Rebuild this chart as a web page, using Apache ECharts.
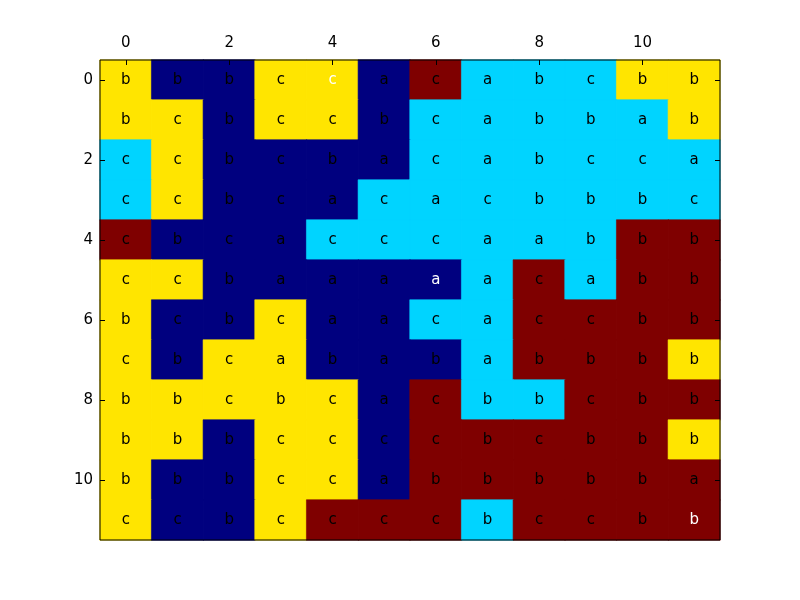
<!DOCTYPE html>
<html>
<head>
<meta charset="utf-8">
<script src="https://cdn.jsdelivr.net/npm/echarts@6/dist/echarts.min.js"></script>
<style>
  html, body { margin: 0; padding: 0; background: #fff; }
  #chart { width: 800px; height: 600px; }
</style>
</head>
<body>
<div id="chart"></div>
<script>
// rows/cols 0..11
var cols = ['0','1','2','3','4','5','6','7','8','9','10','11'];
var rows = ['0','1','2','3','4','5','6','7','8','9','10','11'];

// colour class per cell: 0 navy, 1 cyan, 2 yellow, 3 dark red
var cellValues = [
  [2,0,0,2,2,0,3,1,1,1,2,2],
  [2,2,0,2,2,0,1,1,1,1,1,2],
  [1,2,0,0,0,0,1,1,1,1,1,1],
  [1,2,0,0,0,1,1,1,1,1,1,1],
  [3,0,0,0,1,1,1,1,1,1,3,3],
  [2,2,0,0,0,0,0,1,3,1,3,3],
  [2,0,0,2,0,0,1,1,3,3,3,3],
  [2,0,2,2,0,0,0,1,3,3,3,2],
  [2,2,2,2,2,0,3,1,1,3,3,3],
  [2,2,0,2,2,0,3,3,3,3,3,2],
  [2,0,0,2,2,0,3,3,3,3,3,3],
  [2,0,0,2,3,3,3,1,3,3,3,3]
];

// letter shown in each cell
var cellLetters = [
  ['b','b','b','c','c','a','c','a','b','c','b','b'],
  ['b','c','b','c','c','b','c','a','b','b','a','b'],
  ['c','c','b','c','b','a','c','a','b','c','c','a'],
  ['c','c','b','c','a','c','a','c','b','b','b','c'],
  ['c','b','c','a','c','c','c','a','a','b','b','b'],
  ['c','c','b','a','a','a','a','a','c','a','b','b'],
  ['b','c','b','c','a','a','c','a','c','c','b','b'],
  ['c','b','c','a','b','a','b','a','b','b','b','b'],
  ['b','b','c','b','c','a','c','b','b','c','b','b'],
  ['b','b','b','c','c','c','c','b','c','b','b','b'],
  ['b','b','b','c','c','a','b','b','b','b','b','a'],
  ['c','c','b','c','c','c','c','b','c','c','b','b']
];

// cells whose letter is drawn in white: [row, col]
var whiteCells = [[0,4],[5,6],[11,11]];

var palette = ['#00007f', '#00d4ff', '#ffe500', '#7f0000'];

var data = [];
for (var r = 0; r < rows.length; r++) {
  for (var c = 0; c < cols.length; c++) {
    var white = whiteCells.some(function (w) { return w[0] === r && w[1] === c; });
    var col = palette[cellValues[r][c]];
    data.push({
      value: [c, r, cellValues[r][c]],
      letter: cellLetters[r][c],
      // border in the fill colour hides the hairline seams between cells
      itemStyle: { color: col, borderColor: col, borderWidth: 0.6 },
      label: { color: white ? '#ffffff' : '#000000' }
    });
  }
}

var FONT = 'DejaVu Sans';
var myChart = echarts.init(document.getElementById('chart'));

var option = {
  backgroundColor: '#ffffff',
  animation: false,
  grid: {
    left: 100, right: 80, top: 60, bottom: 60,
    show: true, borderColor: '#000', borderWidth: 1, backgroundColor: 'transparent', z: 10
  },
  xAxis: {
    type: 'category',
    data: cols,
    position: 'top',
    axisLine: { show: false },
    axisTick: { show: true, inside: true, alignWithLabel: true, interval: 1, length: 5, lineStyle: { color: '#000' } },
    axisLabel: { interval: 1, color: '#000', fontFamily: FONT, fontSize: 15, margin: 9 },
    splitLine: { show: false },
    z: 11
  },
  yAxis: [{
    type: 'category',
    data: rows,
    inverse: true,
    axisLine: { show: false },
    axisTick: { show: true, inside: true, alignWithLabel: true, interval: 1, length: 5, lineStyle: { color: '#000' } },
    axisLabel: { interval: 1, color: '#000', fontFamily: FONT, fontSize: 15, margin: 7 },
    splitLine: { show: false },
    z: 11
  }, {
    type: 'category',
    data: rows,
    inverse: true,
    position: 'right',
    axisLine: { show: false },
    axisTick: { show: true, inside: true, alignWithLabel: true, interval: 1, length: 5, lineStyle: { color: '#000' } },
    axisLabel: { show: false },
    splitLine: { show: false },
    z: 11
  }],
  series: [{
    type: 'heatmap',
    data: data,
    label: {
      show: true,
      fontFamily: FONT,
      fontSize: 15,
      formatter: function (p) { return p.data.letter; }
    },
    emphasis: { disabled: true }
  }]
};

myChart.setOption(option);
</script>
</body>
</html>
